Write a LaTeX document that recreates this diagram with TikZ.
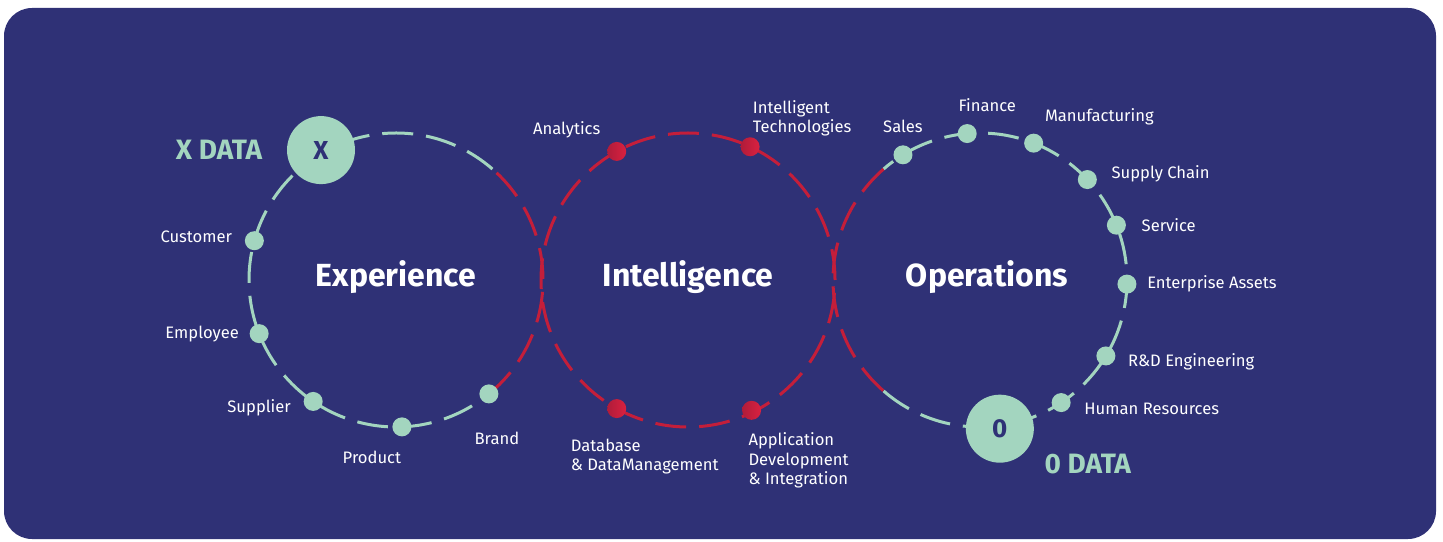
\documentclass[tikz,border=0pt]{standalone}
\usepackage{fontspec}
\setmainfont{Fira Sans}
\usetikzlibrary{positioning}

\definecolor{bgblue}{HTML}{2F3176}
\definecolor{mint}{HTML}{A3D5BF}
\definecolor{ringred}{HTML}{C41E3A}
\definecolor{dotredA}{HTML}{B01C3A}
\definecolor{dotredB}{HTML}{DA2140}

\tikzset{
  mintring/.style={draw=mint, line width=1.5pt, dash pattern=on 15.5pt off 6.5pt},
  redring/.style={draw=ringred, line width=1.5pt, dash pattern=on 15.5pt off 6.5pt},
  mintdot/.style={circle, fill=mint, minimum size=9.5pt, inner sep=0pt},
  reddot/.style={circle, left color=dotredA, right color=dotredB, minimum size=9.5pt, inner sep=0pt},
  bigdot/.style={circle, fill=mint, minimum size=34pt, inner sep=0pt, text=bgblue, font=\fontsize{13}{15}\selectfont\bfseries},
  lbl/.style={text=white, inner sep=0pt, align=left, font=\fontsize{8.3}{9.75}\selectfont},
  datalbl/.style={text=mint, inner sep=0pt, font=\fontsize{14}{16}\selectfont\bfseries},
  ringtitle/.style={text=white, inner sep=0pt, font=\fontsize{16}{19}\selectfont\bfseries}
}

\begin{document}
\begin{tikzpicture}[x=0.5pt, y=0.5pt]
\useasboundingbox (0,0) rectangle (1443,541);
\fill[bgblue, rounded corners=14pt] (4,2) rectangle (1436,533);

\coordinate (L) at (396,261);
\coordinate (M) at (688,261);
\coordinate (R) at (980,261);

% rings
\draw[mintring] ([shift={(49:147)}]L) arc[start angle=49, end angle=309, radius=147];
\draw[redring] ([shift={(-51:147)}]L) arc[start angle=-51, end angle=49, radius=147];
\draw[redring] (M) circle[radius=147];
\draw[mintring] ([shift={(-131:147)}]R) arc[start angle=-131, end angle=131, radius=147];
\draw[redring] ([shift={(131:147)}]R) arc[start angle=131, end angle=229, radius=147];

\node[ringtitle] (experience) at ([yshift=1.5pt]L) {Experience};
\node[ringtitle] (intelligence) at ([yshift=1.5pt]M) {Intelligence};
\node[ringtitle] (operations) at ([xshift=3.5pt, yshift=1.5pt]R) {Operations};

% experience ring
\node[bigdot] (xbig) at ([shift={(120:150)}]L) {X};
\node[mintdot] (cust) at ([shift={(164.5:147)}]L) {};
\node[mintdot] (emp) at ([shift={(201.4:147)}]L) {};
\node[mintdot] (sup) at ([shift={(235.7:147)}]L) {};
\node[mintdot] (prod) at ([shift={(272.3:147)}]L) {};
\node[mintdot] (brand) at ([shift={(309.2:147)}]L) {};

\node[datalbl, left=12pt of xbig] (xdata) {X DATA};
\node[lbl, left=6pt of cust, yshift=2pt] (custlbl) {Customer};
\node[lbl, left=5pt of emp] (emplbl) {Employee};
\node[lbl, left=6pt of sup, yshift=-3pt] (suplbl) {Supplier};
\node[lbl, below=7pt of prod, xshift=-15pt] (prodlbl) {Product};
\node[lbl, below=14pt of brand, xshift=4pt] (brandlbl) {Brand};

% intelligence ring
\node[reddot] (ana) at ([shift={(119:147)}]M) {};
\node[reddot] (itech) at ([shift={(65:147)}]M) {};
\node[reddot] (db) at ([shift={(241:147)}]M) {};
\node[reddot] (app) at ([shift={(296:145)}]M) {};

\node[lbl, above=1.5pt of ana, xshift=-25pt] (analbl) {Analytics};
\node[lbl, above=0pt of itech, xshift=26pt] (itechlbl) {Intelligent\\Technologies};
\node[lbl, below=10pt of db, xshift=14pt] (dblbl) {Database\\\& DataManagement};
\node[lbl, below=6pt of app, xshift=23.5pt] (applbl) {Application\\Development\\\& Integration};

% operations ring
\node[mintdot] (sales) at ([shift={(121.6:147)}]R) {};
\node[mintdot] (fin) at ([shift={(95:147)}]R) {};
\node[mintdot] (manu) at ([shift={(68.6:147)}]R) {};
\node[mintdot] (supply) at ([shift={(43.1:147)}]R) {};
\node[mintdot] (serv) at ([shift={(21.9:147)}]R) {};
\node[mintdot] (ent) at ([shift={(-1.6:147)}]R) {};
\node[mintdot] (rd) at ([shift={(-31.1:147)}]R) {};
\node[mintdot] (hr) at ([shift={(-56.5:147)}]R) {};
\node[bigdot] (obig) at ([shift={(-82.4:150)}]R) {0};

\node[lbl, above=6pt of sales] (saleslbl) {Sales};
\node[lbl, above=6pt of fin, xshift=10pt] (finlbl) {Finance};
\node[lbl, above right=5.5pt and 2pt of manu] (manulbl) {Manufacturing};
\node[lbl, right=7pt of supply, yshift=3pt] (supplylbl) {Supply Chain};
\node[lbl, right=7.5pt of serv] (servlbl) {Service};
\node[lbl, right=5pt of ent] (entlbl) {Enterprise Assets};
\node[lbl, right=6pt of rd, yshift=-3pt] (rdlbl) {R\&D Engineering};
\node[lbl, right=6.5pt of hr, yshift=-3pt] (hrlbl) {Human Resources};
\node[datalbl, right=5pt of obig, yshift=-17.5pt] (odata) {0 DATA};
\end{tikzpicture}
\end{document}
